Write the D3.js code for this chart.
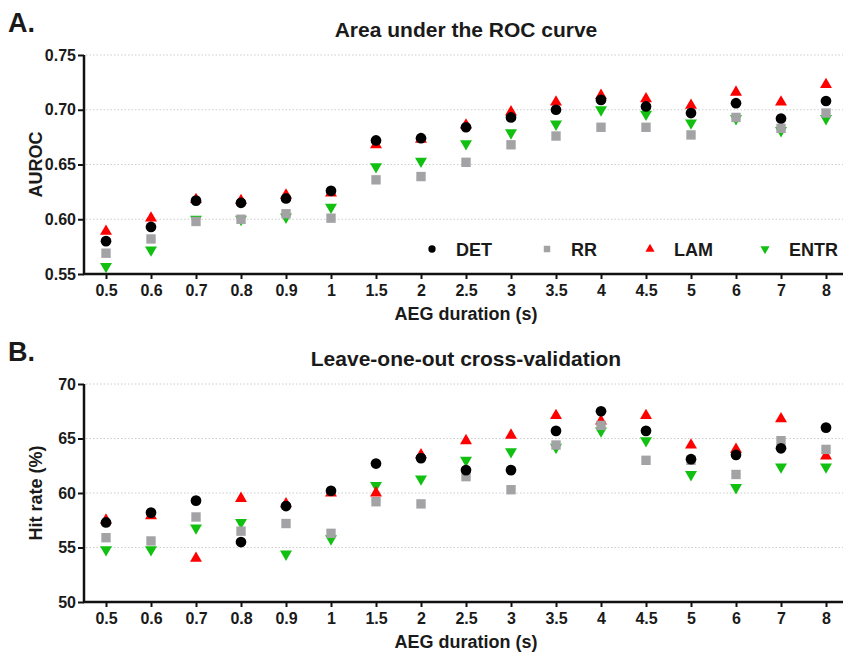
<!DOCTYPE html>
<html>
<head>
<meta charset="utf-8">
<script src="https://cdn.jsdelivr.net/npm/d3@7"></script>
<style>
  html, body { margin: 0; padding: 0; background: #fff; }
  svg text { font-family: "Liberation Sans", Arial, sans-serif; font-weight: bold; fill: #1a1a1a; }
</style>
</head>
<body>
<svg id="chart" width="843" height="654"></svg>
<script>
// --- data ---
const durations = ["0.5","0.6","0.7","0.8","0.9","1","1.5","2","2.5","3","3.5","4","4.5","5","6","7","8"];

const aurocDET  = [0.580,0.593,0.617,0.615,0.619,0.626,0.672,0.674,0.684,0.693,0.700,0.709,0.703,0.697,0.706,0.692,0.708];
const aurocRR   = [0.569,0.582,0.598,0.600,0.605,0.601,0.636,0.639,0.652,0.668,0.676,0.684,0.684,0.677,0.693,0.683,0.697];
const aurocLAM  = [0.589,0.601,0.618,0.617,0.622,0.624,0.668,0.673,0.686,0.698,0.707,0.713,0.710,0.704,0.716,0.707,0.723];
const aurocENTR = [0.557,0.572,0.600,0.600,0.602,0.611,0.648,0.653,0.669,0.679,0.687,0.700,0.696,0.688,0.692,0.681,0.692];

const hitDET  = [57.3,58.2,59.3,55.5,58.8,60.2,62.7,63.2,62.1,62.1,65.7,67.5,65.7,63.1,63.5,64.1,66.0];
const hitRR   = [55.9,55.6,57.8,56.5,57.2,56.3,59.2,59.0,61.5,60.3,64.4,66.2,63.0,63.0,61.7,64.8,64.0];
const hitLAM  = [57.5,57.9,54.0,59.5,59.0,60.0,60.0,63.5,64.8,65.3,67.1,66.6,67.1,64.4,64.0,66.8,63.4];
const hitENTR = [54.8,54.8,56.8,57.3,54.4,55.8,60.7,61.3,63.0,63.8,64.2,65.7,64.8,61.7,60.5,62.4,62.4];

const aurocTicks = [0.55,0.60,0.65,0.70,0.75];
const hitTicks = [50,55,60,65,70];

const seriesNames = ["DET","RR","LAM","ENTR"];
const seriesColors = { DET: "#000000", RR: "#a3a3a6", LAM: "#ff0000", ENTR: "#12c012" };
const seriesShapes = { DET: d3.symbolCircle, RR: d3.symbolSquare, LAM: d3.symbolTriangle, ENTR: d3.symbolTriangle };
const symbolSizes = { DET: 90, RR: 88, LAM: 62, ENTR: 62 };

const svg = d3.select("#chart");

const x = d3.scalePoint().domain(durations).range([106, 826]);

function drawPanel(opts) {
  const g = svg.append("g");
  const y = d3.scaleLinear().domain(opts.domain).range([opts.bottom, opts.top]);

  // panel letter and title
  g.append("text").attr("x", 8).attr("y", opts.top - 23)
    .style("font-size", "27px").attr("fill", "#111").text(opts.letter);
  g.append("text").attr("x", 466).attr("y", opts.top - 18)
    .attr("text-anchor", "middle").style("font-size", "21px").text(opts.title);

  // dotted gridlines
  g.append("g").selectAll("line")
    .data(opts.ticks)
    .join("line")
    .attr("x1", 86).attr("x2", 843)
    .attr("y1", d => y(d)).attr("y2", d => y(d))
    .attr("stroke", "#cccccc").attr("stroke-width", 1)
    .attr("stroke-dasharray", "1.5,2");

  // y axis
  const yAxis = g.append("g").attr("transform", "translate(84,0)")
    .call(d3.axisLeft(y).tickValues(opts.ticks).tickFormat(opts.fmt).tickSize(6).tickPadding(2));
  yAxis.select(".domain").attr("stroke", "#111").attr("stroke-width", 2.5).attr("d", `M0,${opts.top}V${opts.bottom}`);
  yAxis.selectAll(".tick line").attr("stroke", "#111").attr("stroke-width", 2);
  yAxis.selectAll("text").style("font-size", "16px").attr("fill", "#1a1a1a");

  // x axis
  const xAxis = g.append("g").attr("transform", `translate(0,${opts.bottom})`)
    .call(d3.axisBottom(x).tickSize(5).tickPadding(6));
  xAxis.select(".domain").attr("stroke", "#111").attr("stroke-width", 2.5).attr("d", "M83,0H843");
  xAxis.selectAll(".tick line").attr("stroke", "#111").attr("stroke-width", 2);
  xAxis.selectAll("text").style("font-size", "16px").attr("fill", "#1a1a1a");

  // axis titles
  g.append("text").attr("x", 466).attr("y", opts.bottom + 46)
    .attr("text-anchor", "middle").style("font-size", "18px").text("AEG duration (s)");
  g.append("text")
    .attr("transform", `translate(42,${(opts.top + opts.bottom) / 2}) rotate(-90)`)
    .attr("text-anchor", "middle").style("font-size", "18px").text(opts.yLabel);

  // points: ENTR, LAM first, then RR, DET on top
  const drawOrder = ["ENTR","LAM","RR","DET"];
  drawOrder.forEach(name => {
    const vals = opts.values[name];
    g.append("g").selectAll("path")
      .data(vals.map((v, i) => ({ cat: durations[i], v })))
      .join("path")
      .attr("d", d3.symbol().type(seriesShapes[name]).size(symbolSizes[name]))
      .attr("transform", d => `translate(${x(d.cat)},${y(d.v)})` + (name === "ENTR" ? " rotate(180)" : ""))
      .attr("fill", seriesColors[name]);
  });

  return { g, y };
}

const panelA = drawPanel({
  letter: "A.", title: "Area under the ROC curve", yLabel: "AUROC",
  top: 55, bottom: 274, domain: [0.55, 0.75], ticks: aurocTicks,
  fmt: d3.format(".2f"),
  values: { DET: aurocDET, RR: aurocRR, LAM: aurocLAM, ENTR: aurocENTR }
});

drawPanel({
  letter: "B.", title: "Leave-one-out cross-validation", yLabel: "Hit rate (%)",
  top: 384, bottom: 602, domain: [50, 70], ticks: hitTicks,
  fmt: d3.format("d"),
  values: { DET: hitDET, RR: hitRR, LAM: hitLAM, ENTR: hitENTR }
});

// legend inside the top panel
const legendX = [432, 547, 650, 765];
const legend = panelA.g.append("g").attr("transform", "translate(0,249)");
seriesNames.forEach((name, i) => {
  legend.append("path")
    .attr("d", d3.symbol().type(seriesShapes[name]).size(name === "LAM" || name === "ENTR" ? 36 : 42))
    .attr("transform", `translate(${legendX[i]},0)` + (name === "ENTR" ? " rotate(180)" : ""))
    .attr("fill", seriesColors[name]);
  legend.append("text").attr("x", legendX[i] + 24).attr("y", 6.5)
    .style("font-size", "18px").text(name);
});
</script>
</body>
</html>
